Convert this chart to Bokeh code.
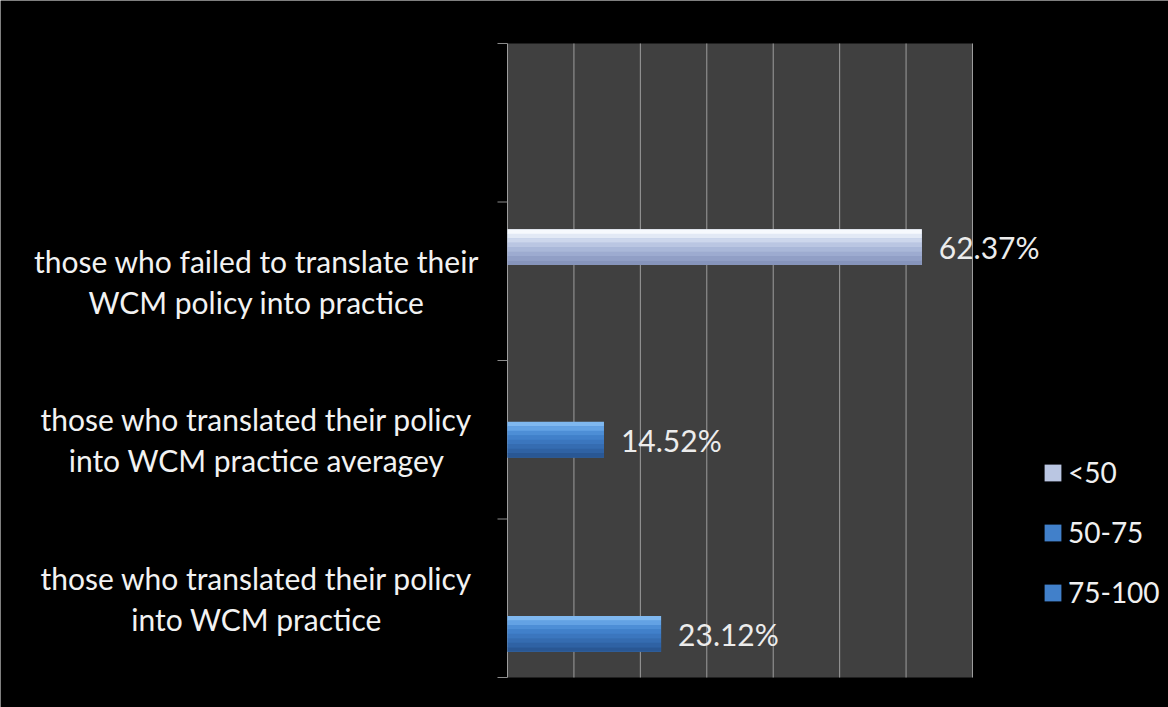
import math
from bokeh.plotting import figure
from bokeh.models import ColumnDataSource, FactorRange, Range1d, Legend, LegendItem
from bokeh.core.properties import value
from bokeh.transform import dodge
from bokeh.embed import file_html
from bokeh.resources import INLINE

# ---- data ----
categories = [
    "those who translated their policy\ninto WCM practice",
    "those who translated their policy\ninto WCM practice averagey",
    "those who failed to translate their\nWCM policy into practice",
    " ",
]
series_names = ["<50", "50-75", "75-100"]
values_lt50 = [0, 0, 62.37, 0]
values_50_75 = [0, 14.52, 0, 0]
values_75_100 = [23.12, 0, 0, 0]
x_ticks = [0, 10, 20, 30, 40, 50, 60, 70]

# ---- layout (pixels) ----
FONT = "Lato"
W, H = 1168, 707
AREA_L, AREA_R, AREA_T, AREA_B = 507, 972, 43, 677   # grey plotting area
px_per_unit = (AREA_R - AREA_L) / (x_ticks[-1] - x_ticks[0])
x_min = x_ticks[0] - AREA_L / px_per_unit
x_max = x_ticks[-1] + (W - AREA_R) / px_per_unit
n_cat = len(categories)
px_per_cat = (AREA_B - AREA_T) / n_cat
pad = (H / px_per_cat - n_cat) / 2
SHIFT = -(pad * px_per_cat - (H - AREA_B)) / px_per_cat

p = figure(width=W, height=H,
           y_range=FactorRange(factors=categories, range_padding=pad,
                               range_padding_units="absolute"),
           x_range=Range1d(x_min, x_max),
           x_axis_location=None, y_axis_location=None,
           toolbar_location=None, output_backend="svg",
           background_fill_color="black", border_fill_color="black",
           outline_line_color=None,
           min_border_left=0, min_border_right=0,
           min_border_top=0, min_border_bottom=0)
for g in p.grid:
    g.visible = False


def Y(field, off=0.0):
    return dodge(field, off + SHIFT, range=p.y_range)


# grey plotting area
p.hbar(y=Y("cat", 0.5), left=x_ticks[0], right=x_ticks[-1], height=n_cat,
       fill_color="#404040", line_color=None,
       source=ColumnDataSource(dict(cat=[categories[n_cat // 2 - 1]])))

# vertical grid lines
grid_src = ColumnDataSource(dict(x=x_ticks,
                                 lo=[categories[0]] * len(x_ticks),
                                 hi=[categories[-1]] * len(x_ticks)))
p.segment(x0="x", x1="x", y0=Y("lo", -0.5), y1=Y("hi", 0.5),
          line_color="#9d9d9d", line_width=1, source=grid_src)

# category-boundary ticks on the left edge
p.ray(x=x_ticks[0], y=Y("cat", -0.5), length=10, length_units="screen",
      angle=math.pi, line_color="#8c8c8c", line_width=1,
      source=ColumnDataSource(dict(cat=categories)))
p.ray(x=x_ticks[0], y=Y("cat", 0.5), length=10, length_units="screen",
      angle=math.pi, line_color="#8c8c8c", line_width=1,
      source=ColumnDataSource(dict(cat=categories[-1:])))

bar_h = 0.225
series = [
    (values_lt50, 0.215,
     ["#f6f9fd", "#e2e9f5", "#cdd7ec", "#bac6e2", "#aab8d9", "#9dabd0", "#919fc6", "#8694bb"]),
    (values_50_75, 0.0,
     ["#7fb8f0", "#63a2e4", "#4d8ed6", "#4180ca", "#3b76be", "#356cb1", "#2f62a4", "#295794"]),
    (values_75_100, -0.225,
     ["#7fb8f0", "#63a2e4", "#4d8ed6", "#4180ca", "#3b76be", "#356cb1", "#2f62a4", "#295794"]),
]

legend_items = []
for name, (vals, off, stops) in zip(series_names, series):
    src = ColumnDataSource(dict(cat=categories, val=vals))
    main = p.hbar(y=Y("cat", off), left=0, right="val", height=bar_h,
                  fill_color=stops[3], line_color=None, source=src)
    n = len(stops)
    strip = bar_h / n
    for k, col in enumerate(stops):
        centre = off + bar_h / 2 - strip * (k + 0.5)
        p.hbar(y=Y("cat", centre), left=0, right="val", height=strip * 1.05,
               fill_color=col, line_color=None, source=src)
    legend_items.append(LegendItem(label=name, renderers=[main]))

    keep = [i for i, v in enumerate(vals) if v > 0]
    lab_src = ColumnDataSource(dict(cat=[categories[i] for i in keep],
                                    val=[vals[i] for i in keep],
                                    txt=[f"{vals[i]:.2f}%" for i in keep]))
    p.text(x="val", y=Y("cat", off), text="txt",
           x_offset=17, text_baseline="middle", text_align="left",
           text_font=value(FONT), text_font_size="30px", text_color="#ececec",
           source=lab_src)

# category labels, centred, left of the plotting area
cat_src = ColumnDataSource(dict(cat=categories, zero=[x_ticks[0]] * n_cat))
p.text(x="zero", y=Y("cat"), text="cat", x_offset=-251,
       text_align="center", text_baseline="middle", text_line_height=1.13,
       text_font=value(FONT), text_font_size="30px", text_color="#f2f2f2",
       source=cat_src)

legend = Legend(items=legend_items, location=(1042, 98),
                background_fill_color="black", background_fill_alpha=0,
                border_line_color=None, margin=0, padding=0,
                glyph_width=21, glyph_height=21, label_standoff=5,
                spacing=26, label_text_font=FONT, label_text_font_size="28px",
                label_text_color="#f0f0f0", label_text_baseline="middle")
p.add_layout(legend)

open("out.html", "w").write(file_html(p, INLINE))
